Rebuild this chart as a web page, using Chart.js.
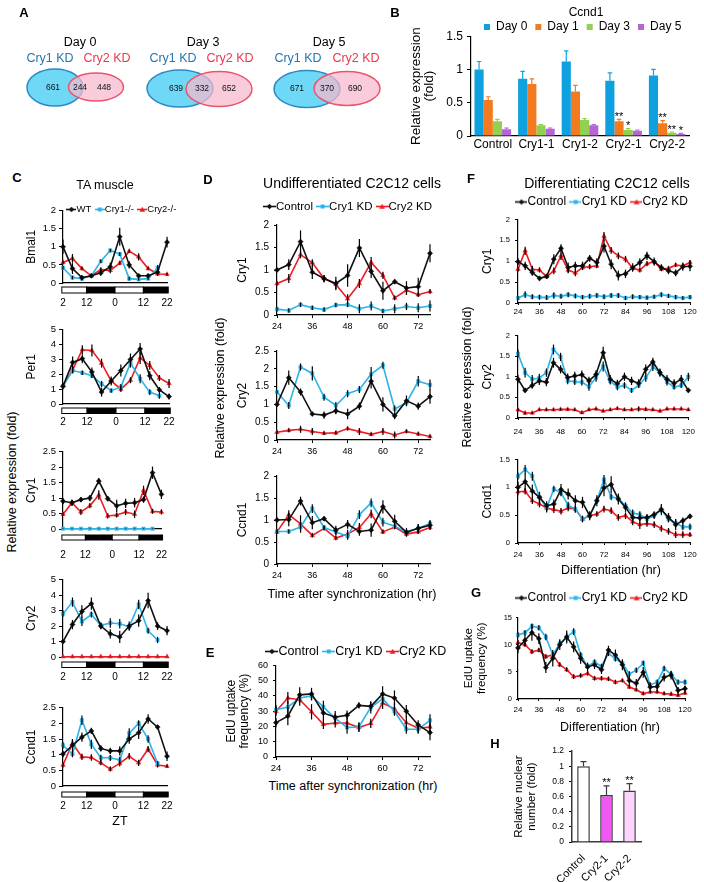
<!DOCTYPE html>
<html>
<head>
<meta charset="utf-8">
<script src="https://cdn.jsdelivr.net/npm/chart.js@4.4.1/dist/chart.umd.min.js"></script>
<style>
html, body { margin: 0; padding: 0; background: #fff; }
#fig { position: relative; width: 704px; height: 882px; overflow: hidden; font-family: "Liberation Sans", Arial, sans-serif; }
#fig canvas { position: absolute; }
.t { position: absolute; white-space: nowrap; line-height: 1; transform: translate(-50%, -50%); color: #000; }
</style>
</head>
<body>
<div id="fig"></div>
<script>
// ---------- A: Venn counts ----------
const vennDays = ['Day 0', 'Day 3', 'Day 5'];
const vennCry1Only = [661, 639, 671];
const vennShared = [244, 332, 370];
const vennCry2Only = [448, 652, 690];

// ---------- B: Ccnd1 bars ----------
const bCategories = ['Control', 'Cry1-1', 'Cry1-2', 'Cry2-1', 'Cry2-2'];
const bDays = ['Day 0', 'Day 1', 'Day 3', 'Day 5'];
const bDay0 = [1.00, 0.86, 1.12, 0.83, 0.91];
const bDay1 = [0.54, 0.78, 0.67, 0.22, 0.19];
const bDay3 = [0.22, 0.16, 0.24, 0.09, 0.05];
const bDay5 = [0.10, 0.11, 0.16, 0.08, 0.03];
const bDay0Err = [0.12, 0.11, 0.16, 0.12, 0.09];
const bDay1Err = [0.05, 0.08, 0.09, 0.03, 0.04];
const bDay3Err = [0.03, 0.01, 0.02, 0.02, 0.01];
const bDay5Err = [0.02, 0.01, 0.01, 0.01, 0.01];
const bDay1Stars = ['', '', '', '**', '**'];
const bDay3Stars = ['', '', '', '*', '**'];
const bDay5Stars = ['', '', '', '', '*'];

// ---------- C: TA muscle ----------
const cLabels = ['WT', 'Cry1-/-', 'Cry2-/-'];
const cZT = [2, 6, 10, 14, 18, 22, 26, 30, 34, 38, 42, 46];
const cZTTicks = [2, 12, 24, 36, 46];
const cLightDark = [[1.5, 12, 0], [12, 24, 1], [24, 36, 0], [36, 46.5, 1]];
const cBmal1WT = [1.0, 0.4, 0.15, 0.2, 0.28, 0.45, 1.28, 0.5, 0.2, 0.2, 0.3, 1.13];
const cBmal1Cry1 = [0.42, 0.15, 0.12, 0.2, 0.6, 0.9, 0.8, 0.12, 0.1, 0.12, 0.42, null];
const cBmal1Cry2 = [0.57, 0.68, 0.4, 0.2, 0.37, 0.35, 0.55, 0.88, 0.72, 0.4, 0.25, 0.24];
const cBmal1WTErr = [0.2, 0.15, 0.05, 0.05, 0.08, 0.12, 0.25, 0.1, 0.05, 0.05, 0.08, 0.15];
const cBmal1Cry1Err = [0.05, 0.05, 0.05, 0.05, 0.05, 0.05, 0.05, 0.05, 0.03, 0.03, 0.08, null];
const cBmal1Cry2Err = [0.05, 0.12, 0.05, 0.05, 0.05, 0.08, 0.05, 0.05, 0.1, 0.05, 0.05, 0.04];
const cPer1WT = [1.2, 2.8, 3.05, 2.15, 0.8, 1.55, 2.25, 3.0, 3.7, 1.9, 0.95, 0.5];
const cPer1Cry1 = [1.2, 2.25, 2.1, 1.9, 1.35, 0.9, 1.15, 2.75, 1.7, 0.8, 0.55, null];
const cPer1Cry2 = [1.25, 2.3, 3.65, 3.6, 2.75, 1.55, 1.0, 1.6, 3.1, 2.6, 1.75, 1.38];
const cPer1WTErr = [0.2, 0.4, 0.3, 0.3, 0.3, 0.3, 0.4, 0.4, 0.4, 0.3, 0.2, 0.2];
const cPer1Cry1Err = [0.1, 0.2, 0.15, 0.15, 0.2, 0.15, 0.2, 0.3, 0.3, 0.2, 0.2, null];
const cPer1Cry2Err = [0.1, 0.2, 0.3, 0.4, 0.3, 0.2, 0.2, 0.2, 0.4, 0.3, 0.2, 0.3];
const cCry1WT = [0.9, 0.85, 0.95, 1.0, 1.55, 0.98, 0.75, 0.83, 0.85, 0.95, 1.82, 1.12];
const cCry1Cry1 = [0.01, 0.01, 0.01, 0.01, 0.01, 0.01, 0.01, 0.01, 0.01, 0.01, 0.01, null];
const cCry1Cry2 = [0.48, 0.85, 0.55, 0.75, 1.1, 0.42, 0.45, 0.55, 0.48, 1.25, 0.57, 0.55];
const cCry1WTErr = [0.1, 0.1, 0.08, 0.1, 0.1, 0.08, 0.2, 0.15, 0.15, 0.1, 0.2, 0.15];
const cCry1Cry1Err = [0.01, 0.01, 0.01, 0.01, 0.01, 0.01, 0.01, 0.01, 0.01, 0.01, 0.01, null];
const cCry1Cry2Err = [0.05, 0.1, 0.1, 0.08, 0.15, 0.08, 0.08, 0.1, 0.12, 0.15, 0.08, 0.08];
const cCry2WT = [1.0, 2.1, 2.95, 3.45, 2.0, 1.5, 1.3, 2.0, 2.35, 3.65, 2.0, 1.7];
const cCry2Cry1 = [2.8, 3.55, 2.3, 2.75, 2.05, 2.2, 2.15, 1.95, 3.4, 1.7, 1.1, null];
const cCry2Cry2 = [0.02, 0.02, 0.02, 0.02, 0.02, 0.02, 0.02, 0.02, 0.02, 0.02, 0.02, 0.02];
const cCry2WTErr = [0.1, 0.3, 0.4, 0.4, 0.2, 0.3, 0.4, 0.3, 0.4, 0.5, 0.25, 0.3];
const cCry2Cry1Err = [0.2, 0.3, 0.3, 0.2, 0.2, 0.3, 0.3, 0.2, 0.3, 0.2, 0.2, null];
const cCry2Cry2Err = [0.01, 0.01, 0.01, 0.01, 0.01, 0.01, 0.01, 0.01, 0.01, 0.01, 0.01, 0.01];
const cCcnd1WT = [1.02, 1.3, 1.56, 1.76, 1.2, 1.12, 1.12, 1.5, 1.7, 2.14, 1.88, 0.95];
const cCcnd1Cry1 = [1.3, 1.02, 2.1, 1.33, 0.9, 0.9, 0.83, 1.69, 2.0, 1.5, 0.72, null];
const cCcnd1Cry2 = [0.67, 1.36, 0.93, 0.91, 0.74, 0.54, 0.72, 0.95, 0.74, 1.18, 0.67, 0.63];
const cCcnd1WTErr = [0.1, 0.2, 0.15, 0.1, 0.1, 0.1, 0.15, 0.15, 0.2, 0.15, 0.05, 0.15];
const cCcnd1Cry1Err = [0.1, 0.1, 0.15, 0.15, 0.1, 0.1, 0.1, 0.15, 0.1, 0.12, 0.08, null];
const cCcnd1Cry2Err = [0.08, 0.12, 0.1, 0.1, 0.08, 0.08, 0.1, 0.1, 0.1, 0.1, 0.08, 0.05];

// ---------- D / E: undifferentiated C2C12 ----------
const kdLabels = ['Control', 'Cry1 KD', 'Cry2 KD'];
const dT = [24, 28, 32, 36, 40, 44, 48, 52, 56, 60, 64, 68, 72, 76];
const dCry1Ctrl = [1.0, 1.12, 1.63, 0.95, 0.81, 0.7, 0.88, 1.49, 0.97, 0.54, 0.74, 0.6, 0.63, 1.37];
const dCry1Kd1 = [0.13, 0.1, 0.23, 0.16, 0.12, 0.22, 0.23, 0.14, 0.2, 0.09, 0.14, 0.19, 0.16, 0.2];
const dCry1Kd2 = [0.7, 0.81, 1.34, 1.16, 0.81, 0.68, 0.36, 0.7, 1.17, 0.88, 0.38, 0.55, 0.45, 0.52];
const dCry1CtrlErr = [0.05, 0.12, 0.25, 0.15, 0.08, 0.15, 0.25, 0.2, 0.15, 0.2, 0.05, 0.15, 0.2, 0.2];
const dCry1Kd1Err = [0.05, 0.05, 0.05, 0.05, 0.05, 0.05, 0.05, 0.1, 0.1, 0.05, 0.1, 0.08, 0.1, 0.12];
const dCry1Kd2Err = [0.05, 0.1, 0.08, 0.08, 0.08, 0.1, 0.1, 0.1, 0.12, 0.08, 0.05, 0.1, 0.05, 0.05];
const dCry2Ctrl = [1.0, 1.75, 1.35, 0.73, 0.7, 0.82, 0.73, 0.95, 1.65, 1.0, 0.68, 1.1, 0.95, 1.22];
const dCry2Kd1 = [1.35, 0.97, 2.05, 1.87, 1.2, 0.97, 1.3, 1.42, 1.85, 2.1, 0.87, 1.05, 1.65, 1.55];
const dCry2Kd2 = [0.22, 0.27, 0.3, 0.24, 0.19, 0.2, 0.32, 0.24, 0.16, 0.24, 0.14, 0.24, 0.17, 0.1];
const dCry2CtrlErr = [0.05, 0.2, 0.1, 0.05, 0.1, 0.1, 0.15, 0.1, 0.2, 0.2, 0.1, 0.15, 0.1, 0.2];
const dCry2Kd1Err = [0.05, 0.1, 0.1, 0.2, 0.1, 0.1, 0.1, 0.1, 0.2, 0.1, 0.1, 0.1, 0.15, 0.15];
const dCry2Kd2Err = [0.05, 0.05, 0.1, 0.1, 0.05, 0.05, 0.05, 0.1, 0.05, 0.1, 0.1, 0.05, 0.05, 0.05];
const dCcnd1Ctrl = [1.0, 1.01, 1.43, 0.94, 1.03, 0.77, 0.9, 0.74, 0.77, 1.3, 0.97, 0.72, 0.81, 0.88];
const dCcnd1Kd1 = [0.74, 0.74, 0.84, 1.26, 0.83, 0.73, 0.63, 1.12, 1.39, 0.95, 0.86, 0.73, 0.81, 0.92];
const dCcnd1Kd2 = [0.73, 1.12, 0.91, 0.65, 0.81, 0.59, 0.68, 0.83, 1.14, 0.73, 0.84, 0.68, 0.73, 0.83];
const dCcnd1CtrlErr = [0.05, 0.15, 0.1, 0.15, 0.05, 0.1, 0.1, 0.1, 0.15, 0.15, 0.15, 0.1, 0.1, 0.1];
const dCcnd1Kd1Err = [0.05, 0.05, 0.1, 0.1, 0.05, 0.08, 0.08, 0.1, 0.1, 0.1, 0.05, 0.05, 0.1, 0.08];
const dCcnd1Kd2Err = [0.05, 0.1, 0.2, 0.05, 0.05, 0.05, 0.1, 0.1, 0.1, 0.05, 0.05, 0.05, 0.05, 0.05];
const eCtrl = [22.5, 26.8, 40.7, 41.3, 28.9, 26.1, 27.4, 33.8, 33.2, 41.3, 38.6, 30, 21, 16];
const eKd1 = [31, 32.8, 38.6, 40, 32.8, 25.3, 19.3, 19.7, 32.5, 38.1, 30, 18.2, 18.2, 24];
const eKd2 = [30, 38.6, 37.5, 29.6, 21.4, 22.3, 22.3, 19.3, 22, 35.4, 31.5, 22.5, 18.8, 19.7];
const eCtrlErr = [3, 6, 5, 4, 5, 4, 3, 2, 3, 5, 5, 4, 3, 5];
const eKd1Err = [3, 4, 3, 3, 4, 3, 4, 3, 4, 3, 3, 3, 3, 4];
const eKd2Err = [3, 4, 4, 5, 3, 3, 4, 3, 3, 4, 4, 4, 3, 3];

// ---------- F / G: differentiating C2C12 ----------
const fT = [24, 28, 32, 36, 40, 44, 48, 52, 56, 60, 64, 68, 72, 76, 80, 84, 88, 92, 96, 100, 104, 108, 112, 116, 120];
const fCry1Ctrl = [0.99, 0.89, 0.73, 0.59, 0.64, 1.05, 1.31, 0.85, 0.89, 0.89, 1.07, 0.97, 1.36, 0.93, 0.66, 0.7, 0.85, 0.97, 1.13, 0.99, 0.85, 0.77, 0.72, 0.87, 0.88];
const fCry1Kd1 = [0.12, 0.2, 0.15, 0.14, 0.13, 0.18, 0.16, 0.2, 0.17, 0.14, 0.16, 0.18, 0.15, 0.18, 0.18, 0.12, 0.15, 0.14, 0.13, 0.15, 0.2, 0.17, 0.14, 0.12, 0.14];
const fCry1Kd2 = [0.81, 1.25, 0.81, 0.79, 0.63, 0.77, 1.13, 0.79, 0.72, 0.85, 0.87, 0.89, 1.6, 1.26, 1.13, 1.05, 0.83, 0.79, 0.94, 0.99, 0.81, 0.83, 0.91, 0.89, 0.97];
const fCry1CtrlErr = [0.08, 0.1, 0.08, 0.05, 0.05, 0.12, 0.1, 0.12, 0.1, 0.1, 0.08, 0.1, 0.15, 0.12, 0.12, 0.1, 0.1, 0.1, 0.1, 0.1, 0.08, 0.08, 0.08, 0.1, 0.12];
const fCry1Kd1Err = [0.05, 0.08, 0.06, 0.06, 0.06, 0.08, 0.06, 0.06, 0.06, 0.05, 0.06, 0.06, 0.06, 0.06, 0.06, 0.05, 0.06, 0.05, 0.05, 0.05, 0.06, 0.05, 0.05, 0.04, 0.05];
const fCry1Kd2Err = [0.06, 0.1, 0.08, 0.06, 0.05, 0.08, 0.1, 0.08, 0.08, 0.06, 0.06, 0.06, 0.1, 0.08, 0.08, 0.08, 0.06, 0.06, 0.06, 0.06, 0.05, 0.05, 0.05, 0.05, 0.06];
const fCry2Ctrl = [0.94, 0.67, 0.79, 0.9, 0.87, 1.34, 1.18, 0.98, 1.02, 1.05, 0.9, 1.06, 1.58, 0.94, 0.83, 1.0, 0.9, 0.84, 1.18, 1.36, 1.1, 0.94, 0.84, 0.94, 0.67];
const fCry2Kd1 = [1.56, 1.1, 0.94, 0.97, 1.1, 1.66, 1.48, 0.9, 0.88, 0.87, 0.76, 0.98, 1.25, 0.89, 0.75, 0.79, 0.67, 0.79, 0.98, 1.24, 1.1, 0.87, 0.75, 0.79, 1.0];
const fCry2Kd2 = [0.2, 0.12, 0.12, 0.2, 0.2, 0.2, 0.21, 0.21, 0.2, 0.13, 0.2, 0.22, 0.17, 0.2, 0.23, 0.2, 0.2, 0.22, 0.21, 0.2, 0.17, 0.22, 0.22, 0.22, 0.2];
const fCry2CtrlErr = [0.1, 0.05, 0.08, 0.1, 0.1, 0.12, 0.1, 0.1, 0.1, 0.1, 0.1, 0.1, 0.15, 0.1, 0.1, 0.1, 0.1, 0.1, 0.12, 0.1, 0.1, 0.1, 0.1, 0.1, 0.05];
const fCry2Kd1Err = [0.1, 0.12, 0.1, 0.1, 0.1, 0.12, 0.1, 0.08, 0.08, 0.08, 0.1, 0.1, 0.12, 0.08, 0.08, 0.08, 0.06, 0.06, 0.1, 0.1, 0.08, 0.08, 0.06, 0.06, 0.1];
const fCry2Kd2Err = [0.04, 0.04, 0.03, 0.03, 0.03, 0.03, 0.03, 0.03, 0.03, 0.03, 0.03, 0.03, 0.03, 0.03, 0.03, 0.03, 0.03, 0.06, 0.04, 0.03, 0.03, 0.03, 0.03, 0.03, 0.03];
const fCcnd1Ctrl = [1.0, 1.1, 0.93, 0.82, 0.67, 0.7, 0.96, 0.88, 0.76, 0.73, 0.49, 0.76, 0.99, 1.05, 0.79, 0.64, 0.46, 0.45, 0.46, 0.51, 0.6, 0.46, 0.33, 0.4, 0.48];
const fCcnd1Kd1 = [1.2, 1.32, 1.2, 0.82, 0.63, 0.97, 0.9, 0.68, 0.61, 0.43, 0.49, 0.76, 1.14, 0.83, 0.8, 0.67, 0.54, 0.51, 0.43, 0.49, 0.6, 0.43, 0.36, 0.29, 0.29];
const fCcnd1Kd2 = [0.92, 0.93, 0.76, 0.7, 0.63, 0.6, 0.57, 0.63, 0.61, 0.43, 0.49, 0.52, 0.61, 0.58, 0.46, 0.49, 0.38, 0.33, 0.35, 0.33, 0.26, 0.21, 0.15, 0.15, 0.15];
const fCcnd1CtrlErr = [0.1, 0.15, 0.12, 0.1, 0.08, 0.08, 0.1, 0.1, 0.1, 0.1, 0.08, 0.1, 0.15, 0.15, 0.1, 0.08, 0.08, 0.06, 0.06, 0.06, 0.1, 0.08, 0.1, 0.06, 0.04];
const fCcnd1Kd1Err = [0.06, 0.08, 0.08, 0.08, 0.08, 0.06, 0.06, 0.06, 0.06, 0.06, 0.06, 0.06, 0.08, 0.06, 0.06, 0.06, 0.06, 0.06, 0.06, 0.06, 0.06, 0.06, 0.06, 0.06, 0.06];
const fCcnd1Kd2Err = [0.06, 0.06, 0.06, 0.06, 0.06, 0.06, 0.06, 0.06, 0.06, 0.05, 0.05, 0.05, 0.06, 0.06, 0.06, 0.06, 0.06, 0.08, 0.06, 0.06, 0.06, 0.06, 0.06, 0.06, 0.04];
const gCtrl = [9.4, 10.8, 12.2, 11.1, 5.8, 7.5, 10, 11.4, 9.6, 7.5, 5.9, 6.3, 5.4, 9, 8.1, 6.3, 3.4, 2.9, 4.9, 2.2, 2.3, 4, 4.4, 1.6, 1.9];
const gKd1 = [11.8, 12.2, 13.4, 13.1, 11.4, 8.1, 10.2, 11.4, 12.4, 8.1, 6, 6.8, 6, 8.4, 7.4, 6.6, 4.6, 5.3, 6.6, 2.6, 3.1, 5.6, 4.6, 3.1, 3.1];
const gKd2 = [10.4, 10, 8.7, 9, 7.8, 8.1, 6.3, 5.4, 4.1, 4.3, 4.7, 3.8, 3.8, 3.7, 3.1, 3.4, 2.2, 1.7, 1, 1.3, 1.3, 1, 0.9, 0.7, 1.1];
const gCtrlErr = [1, 1, 1.5, 1, 1, 1.5, 1, 1.2, 1, 1, 0.8, 0.8, 0.8, 0.8, 1, 1, 1, 0.8, 1, 0.6, 0.8, 0.8, 0.8, 0.6, 0.6];
const gKd1Err = [0.5, 0.5, 0.5, 0.5, 0.6, 0.6, 0.6, 0.8, 0.6, 0.5, 0.5, 0.5, 0.5, 0.5, 0.5, 0.5, 0.5, 0.5, 0.5, 0.5, 0.5, 0.5, 0.5, 0.5, 0.5];
const gKd2Err = [0.4, 0.4, 0.4, 0.4, 0.4, 0.4, 0.4, 0.4, 0.4, 0.4, 0.4, 0.4, 0.4, 0.4, 0.4, 0.3, 0.3, 0.3, 0.3, 0.3, 0.3, 0.3, 0.3, 0.3, 0.3];

// ---------- H: nuclear number ----------
const hCategories = ['Control', 'Cry2-1', 'Cry2-2'];
const hValues = [1.0, 0.62, 0.68];
const hErr = [0.06, 0.12, 0.09];
const hStars = ['', '**', '**'];

// =====================================================================
Chart.defaults.font.family = '"Liberation Sans", Arial, sans-serif';
Chart.defaults.color = '#000';
Chart.defaults.animation = false;
Chart.defaults.responsive = false;
Chart.defaults.events = [];
Chart.defaults.plugins.legend.display = false;
Chart.defaults.plugins.tooltip.enabled = false;

const fig = document.getElementById('fig');
const SERIES = [
    { color: '#111111', shape: 'rectRot', r: 2.6 },
    { color: '#2cb3e8', shape: 'rect', r: 2.4 },
    { color: '#ed1c24', shape: 'triangle', r: 2.6 }
];
const B_COLORS = ['#0fa0e0', '#f47a1f', '#92d050', '#b565d6'];
const plainNum = v => String(+Number(v).toFixed(2));

function addCanvas(left, top, w, h) {
    const c = document.createElement('canvas');
    c.width = Math.round(w);
    c.height = Math.round(h);
    c.style.left = Math.round(left) + 'px';
    c.style.top = Math.round(top) + 'px';
    fig.appendChild(c);
    return c;
}

function txt(s, cx, cy, size, opt = {}) {
    const d = document.createElement('div');
    d.className = 't';
    d.textContent = s;
    d.style.left = cx + 'px';
    d.style.top = cy + 'px';
    d.style.fontSize = size + 'px';
    if (opt.bold) d.style.fontWeight = 'bold';
    if (opt.rot) d.style.transform = 'translate(-50%, -50%) rotate(-90deg)';
    fig.appendChild(d);
}

// vertical error bars drawn through the y scale
const errorBars = {
    id: 'errorBars',
    afterDatasetsDraw(chart) {
        const ctx = chart.ctx;
        const ys = chart.scales.y;
        chart.data.datasets.forEach((ds, di) => {
            if (!ds.errors) return;
            const meta = chart.getDatasetMeta(di);
            ctx.save();
            ctx.strokeStyle = ds.errorColor || '#000';
            ctx.lineWidth = ds.errorWidth || 1.2;
            meta.data.forEach((el, i) => {
                const raw = ds.data[i];
                const v = (raw !== null && typeof raw === 'object') ? raw.y : raw;
                const e = ds.errors[i];
                if (v == null || !e) return;
                const yHi = ys.getPixelForValue(v + e);
                const yLo = ds.errorUpOnly ? ys.getPixelForValue(v) : ys.getPixelForValue(Math.max(v - e, ys.min));
                ctx.beginPath();
                ctx.moveTo(el.x, yLo);
                ctx.lineTo(el.x, yHi);
                if (ds.errorCap) {
                    ctx.moveTo(el.x - ds.errorCap, yHi);
                    ctx.lineTo(el.x + ds.errorCap, yHi);
                }
                ctx.stroke();
                if (ds.stars && ds.stars[i]) {
                    ctx.fillStyle = '#000';
                    ctx.font = '11px "Liberation Sans", Arial, sans-serif';
                    ctx.textAlign = 'center';
                    ctx.textBaseline = 'bottom';
                    ctx.fillText(ds.stars[i], el.x, yHi + 3);
                }
            });
            ctx.restore();
        });
    }
};

// light / dark phase bar under the ZT axis
function lightDarkBar(dy0, dy1) {
    return {
        id: 'lightDark',
        afterDraw(chart) {
            const { ctx, chartArea, scales: { x } } = chart;
            const yA = chartArea.bottom + dy0;
            ctx.save();
            ctx.lineWidth = 1;
            ctx.strokeStyle = '#000';
            cLightDark.forEach(([a, b, dark]) => {
                const xa = x.getPixelForValue(a), xb = x.getPixelForValue(b);
                ctx.fillStyle = dark ? '#000' : '#fff';
                ctx.fillRect(xa, yA, xb - xa, dy1 - dy0);
                ctx.strokeRect(xa, yA, xb - xa, dy1 - dy0);
            });
            ctx.restore();
        }
    };
}

function sets(labels, xs, ys, errs) {
    return ys.map((y, k) => ({
        label: labels[k],
        data: xs.map((x, i) => ({ x: x, y: y[i] })),
        errors: errs[k],
        borderColor: SERIES[k].color,
        backgroundColor: SERIES[k].color,
        borderWidth: 1.6,
        pointStyle: SERIES[k].shape,
        pointRadius: SERIES[k].r,
        pointBorderWidth: 0.5,
        tension: 0,
        clip: false
    }));
}

function linePanel(p) {
    const tLine = p.tLine || 1.2;
    const lh = p.tSize * tLine;
    const left = Math.round(p.titleX - lh / 2);
    const top = Math.round(p.y0 - 8);
    const yw = p.x0 - left;
    const pr = 12;
    const cv = addCanvas(left, top, p.x1 - left + pr, p.y1 - top + p.xh);
    const xTicks = { stepSize: p.xStep, includeBounds: false, autoSkip: false, maxRotation: 0,
        font: { size: p.xFont }, padding: p.xPad };
    if (p.xFmt) xTicks.callback = p.xFmt;
    const xScale = {
        type: 'linear', min: p.xMin, max: p.xMax, ticks: xTicks,
        afterFit: s => { s.height = p.xh; },
        grid: { drawOnChartArea: false, drawTicks: p.xTick > 0, tickLength: p.xTick, color: '#000', lineWidth: 1 },
        border: { color: '#000', width: 1.2 }
    };
    if (p.xTicks) xScale.afterBuildTicks = s => { s.ticks = p.xTicks.map(v => ({ value: v })); };
    return new Chart(cv, {
        type: 'line',
        data: { datasets: p.datasets },
        options: {
            layout: { padding: { top: p.y0 - top, right: pr, left: 0, bottom: 0 } },
            scales: {
                x: xScale,
                y: {
                    min: 0, max: p.yMax,
                    afterFit: s => { s.width = yw; },
                    ticks: { stepSize: p.yStep, font: { size: p.yFont }, padding: p.yPad, callback: plainNum },
                    grid: { drawOnChartArea: false, tickLength: p.yTick, color: '#000', lineWidth: 1 },
                    border: { color: '#000', width: 1.2 },
                    title: { display: true, text: p.title, font: { size: p.tSize, lineHeight: tLine }, padding: 0 }
                }
            }
        },
        plugins: p.lightDark ? [errorBars, p.lightDark] : [errorBars]
    });
}

function lineIcon(k, w) {
    const c = document.createElement('canvas');
    c.width = w;
    c.height = 7;
    const g = c.getContext('2d');
    g.strokeStyle = SERIES[k].color;
    g.fillStyle = SERIES[k].color;
    g.lineWidth = 1.6;
    g.beginPath(); g.moveTo(0, 3.5); g.lineTo(w, 3.5); g.stroke();
    const m = w / 2;
    g.beginPath();
    if (k === 0) { g.moveTo(m, 0.8); g.lineTo(m + 2.7, 3.5); g.lineTo(m, 6.2); g.lineTo(m - 2.7, 3.5); }
    else if (k === 1) { g.rect(m - 2, 1.5, 4, 4); }
    else { g.moveTo(m, 0.8); g.lineTo(m + 2.8, 5.8); g.lineTo(m - 2.8, 5.8); }
    g.closePath();
    g.fill();
    return c;
}

// legend-only chart: first icon starts at x0, text centred on cy
function lineLegend(x0, cy, size, iconW, gap, labels) {
    const pad = gap + size / 2;
    const cv = addCanvas(x0 - pad + size / 2, cy - pad - size / 2, 250, 80);
    new Chart(cv, {
        type: 'line',
        data: { datasets: labels.map((lab, k) => ({ label: lab, data: [], borderColor: SERIES[k].color,
            backgroundColor: SERIES[k].color, pointStyle: lineIcon(k, iconW) })) },
        options: {
            layout: { padding: 0 },
            scales: { x: { display: false }, y: { display: false } },
            plugins: { legend: { display: true, position: 'top', align: 'start',
                labels: { usePointStyle: true, pointStyleWidth: iconW - size, font: { size: size }, padding: pad, color: '#000' } } }
        }
    });
}

// ---------------- A: Venn diagrams ----------------
const vennGeom = [
    { c1: [55, 87.5, 28, 18.5], c2: [96, 87, 27.5, 14], n: [53, 80, 104], title: 80, k1: 50, k2: 107 },
    { c1: [180, 88.5, 33, 18.5], c2: [219, 89, 33, 17.5], n: [176, 202, 229], title: 203, k1: 173, k2: 230 },
    { c1: [307, 89, 33, 18.5], c2: [347, 88.5, 33, 17], n: [297, 327, 355], title: 329, k1: 298, k2: 356 }
];
const vennPlugin = {
    id: 'venn',
    afterDraw(chart) {
        const { ctx, scales: { x, y } } = chart;
        const px = v => x.getPixelForValue(v), py = v => y.getPixelForValue(v);
        const ell = (e, fill, stroke) => {
            ctx.beginPath();
            ctx.ellipse(px(e[0]), py(e[1]), px(e[0] + e[2]) - px(e[0]), py(e[1] + e[3]) - py(e[1]), 0, 0, Math.PI * 2);
            ctx.fillStyle = fill; ctx.fill();
            ctx.lineWidth = 1.5; ctx.strokeStyle = stroke; ctx.stroke();
        };
        ctx.save();
        ctx.textAlign = 'center';
        ctx.textBaseline = 'middle';
        vennGeom.forEach((g, i) => {
            ell(g.c1, '#6ed8f6', '#2a8ac3');
            ell(g.c2, 'rgba(248,184,205,0.72)', '#e9566c');
            ctx.fillStyle = '#111';
            ctx.font = '8.5px "Liberation Sans", Arial, sans-serif';
            ctx.fillText(String(vennCry1Only[i]), px(g.n[0]), py(g.c1[1]));
            ctx.fillText(String(vennShared[i]), px(g.n[1]), py(g.c1[1]));
            ctx.fillText(String(vennCry2Only[i]), px(g.n[2]), py(g.c1[1]));
            ctx.font = '12.5px "Liberation Sans", Arial, sans-serif';
            ctx.fillStyle = '#000';
            ctx.fillText(vennDays[i], px(g.title), py(43));
            ctx.fillStyle = '#2476b3';
            ctx.fillText('Cry1 KD', px(g.k1), py(59));
            ctx.fillStyle = '#e8384e';
            ctx.fillText('Cry2 KD', px(g.k2), py(59));
        });
        ctx.restore();
    }
};
new Chart(addCanvas(0, 0, 390, 130), {
    type: 'scatter',
    data: { datasets: [] },
    options: { layout: { padding: 0 },
        scales: { x: { display: false, min: 0, max: 390 }, y: { display: false, min: 0, max: 130, reverse: true } } },
    plugins: [vennPlugin]
});

// ---------------- B: Ccnd1 bar chart ----------------
const bVals = [bDay0, bDay1, bDay3, bDay5];
const bErrs = [bDay0Err, bDay1Err, bDay3Err, bDay5Err];
const bStars = [null, bDay1Stars, bDay3Stars, bDay5Stars];
new Chart(addCanvas(410, 25, 294, 131), {
    type: 'bar',
    data: {
        labels: bCategories,
        datasets: bDays.map((d, k) => ({
            label: d, data: bVals[k], errors: bErrs[k], stars: bStars[k],
            backgroundColor: B_COLORS[k], errorColor: B_COLORS[k], errorUpOnly: true, errorCap: 2.2,
            categoryPercentage: 0.84, barPercentage: 1
        }))
    },
    options: {
        layout: { padding: { top: 8, right: 15, left: 0, bottom: 0 } },
        scales: {
            x: { afterFit: s => { s.height = 20; },
                ticks: { font: { size: 12 }, padding: -7, maxRotation: 0, minRotation: 0, autoSkip: false },
                grid: { display: false }, border: { color: '#000', width: 1.2 } },
            y: { min: 0, max: 1.5, afterFit: s => { s.width = 61; },
                ticks: { stepSize: 0.5, font: { size: 12 }, padding: 4, callback: plainNum },
                grid: { drawOnChartArea: false, tickLength: 4, color: '#000' },
                border: { color: '#000', width: 1.2 },
                title: { display: true, text: ['Relative expression', '(fold)'], font: { size: 13.5, lineHeight: 0.93 }, padding: 0 } }
        }
    },
    plugins: [errorBars]
});
// B legend
new Chart(addCanvas(476, 27 - 8 - 6, 228, 60), {
    type: 'bar',
    data: { datasets: bDays.map((d, k) => ({ label: d, data: [], backgroundColor: B_COLORS[k] })) },
    options: {
        layout: { padding: 0 },
        scales: { x: { display: false }, y: { display: false } },
        plugins: { legend: { display: true, position: 'top', align: 'start',
            labels: { boxWidth: 6, boxHeight: 6, font: { size: 12 }, padding: 8, color: '#000' } } }
    }
});

// ---------------- C: TA muscle ----------------
const cCommon = {
    x0: 63, x1: 175, xMin: 2, xMax: 46, xTicks: cZTTicks, xFmt: v => String(v % 24),
    titleX: 31, tSize: 12, xFont: 10, yFont: 9.5, xTick: 0, yTick: 4, yPad: 3, xh: 32
};
const cPanels = [
    { title: 'Bmal1', y0: 210, y1: 283, yMax: 2, yStep: 0.5, xPad: 14.4, bar: [4, 10],
        ys: [cBmal1WT, cBmal1Cry1, cBmal1Cry2], es: [cBmal1WTErr, cBmal1Cry1Err, cBmal1Cry2Err] },
    { title: 'Per1', y0: 329, y1: 404, yMax: 5, yStep: 1, xPad: 12.4, bar: [4, 9.5],
        ys: [cPer1WT, cPer1Cry1, cPer1Cry2], es: [cPer1WTErr, cPer1Cry1Err, cPer1Cry2Err] },
    { title: 'Cry1', y0: 451, y1: 529, yMax: 2.5, yStep: 0.5, xPad: 20, bar: [6, 11],
        ys: [cCry1WT, cCry1Cry1, cCry1Cry2], es: [cCry1WTErr, cCry1Cry1Err, cCry1Cry2Err] },
    { title: 'Cry2', y0: 579, y1: 657, yMax: 5, yStep: 1, xPad: 14.4, bar: [5, 10.5],
        ys: [cCry2WT, cCry2Cry1, cCry2Cry2], es: [cCry2WTErr, cCry2Cry1Err, cCry2Cry2Err] },
    { title: 'Ccnd1', y0: 707, y1: 786, yMax: 2.5, yStep: 0.5, xPad: 14.4, bar: [6, 11],
        ys: [cCcnd1WT, cCcnd1Cry1, cCcnd1Cry2], es: [cCcnd1WTErr, cCcnd1Cry1Err, cCcnd1Cry2Err] }
];
cPanels.forEach(c => linePanel(Object.assign({}, cCommon, c, {
    datasets: sets(cLabels, cZT, c.ys, c.es), lightDark: lightDarkBar(c.bar[0], c.bar[1])
})));
lineLegend(66, 209, 9.5, 10.5, 3, cLabels);

// ---------------- D: undifferentiated ----------------
const dCommon = {
    x0: 277, x1: 430, xMin: 24, xMax: 76, xStep: 12, titleX: 242, tSize: 12,
    xFont: 9, yFont: 10, xTick: 3, xPad: 3, yTick: 3, yPad: 5, xh: 18
};
[
    { title: 'Cry1', y0: 222, y1: 315, yMax: 2, yStep: 0.5,
        ys: [dCry1Ctrl, dCry1Kd1, dCry1Kd2], es: [dCry1CtrlErr, dCry1Kd1Err, dCry1Kd2Err] },
    { title: 'Cry2', y0: 348, y1: 440, yMax: 2.5, yStep: 0.5,
        ys: [dCry2Ctrl, dCry2Kd1, dCry2Kd2], es: [dCry2CtrlErr, dCry2Kd1Err, dCry2Kd2Err] },
    { title: 'Ccnd1', y0: 473, y1: 564, yMax: 2, yStep: 0.5,
        ys: [dCcnd1Ctrl, dCcnd1Kd1, dCcnd1Kd2], es: [dCcnd1CtrlErr, dCcnd1Kd1Err, dCcnd1Kd2Err] }
].forEach(c => linePanel(Object.assign({}, dCommon, c, { datasets: sets(kdLabels, dT, c.ys, c.es) })));
lineLegend(263, 206, 11.5, 13, 3, kdLabels);

// ---------------- E: EdU undifferentiated ----------------
linePanel({
    x0: 276, x1: 430, xMin: 24, xMax: 76, xStep: 12, y0: 663, y1: 757, yMax: 60, yStep: 10,
    title: ['EdU uptake', 'frequency (%)'], titleX: 231, tSize: 12, tLine: 13 / 12,
    xFont: 9.5, yFont: 9, xTick: 3, xPad: 3, yTick: 3, yPad: 5, xh: 18,
    datasets: sets(kdLabels, dT, [eCtrl, eKd1, eKd2], [eCtrlErr, eKd1Err, eKd2Err])
});
lineLegend(265, 651, 12.5, 13.5, 3, kdLabels);

// ---------------- F: differentiating ----------------
const fCommon = {
    x0: 518, x1: 690, xMin: 24, xMax: 120, xStep: 12, titleX: 487, tSize: 12,
    xFont: 8, yFont: 7.5, xTick: 2, yTick: 3, yPad: 5
};
[
    { title: 'Cry1', y0: 218, y1: 303, yMax: 2, yStep: 0.5, xPad: 2, xh: 14,
        ys: [fCry1Ctrl, fCry1Kd1, fCry1Kd2], es: [fCry1CtrlErr, fCry1Kd1Err, fCry1Kd2Err] },
    { title: 'Cry2', y0: 334, y1: 418, yMax: 2, yStep: 0.5, xPad: 7, xh: 20,
        ys: [fCry2Ctrl, fCry2Kd1, fCry2Kd2], es: [fCry2CtrlErr, fCry2Kd1Err, fCry2Kd2Err] },
    { title: 'Ccnd1', y0: 458, y1: 543, yMax: 1.5, yStep: 0.5, xPad: 5, xh: 18,
        ys: [fCcnd1Ctrl, fCcnd1Kd1, fCcnd1Kd2], es: [fCcnd1CtrlErr, fCcnd1Kd1Err, fCcnd1Kd2Err] }
].forEach(c => linePanel(Object.assign({}, fCommon, c, { datasets: sets(kdLabels, fT, c.ys, c.es) })));
lineLegend(515, 202, 12, 12.5, 3, kdLabels);

// ---------------- G: EdU differentiating ----------------
linePanel({
    x0: 518, x1: 685, xMin: 24, xMax: 120, xStep: 12, y0: 617, y1: 699, yMax: 15, yStep: 5,
    title: ['EdU uptake', 'frequency (%)'], titleX: 468, tSize: 11.5, tLine: 13 / 11.5,
    xFont: 8, yFont: 7.5, xTick: 2, xPad: 4, yTick: 2, yPad: 4, xh: 16,
    datasets: sets(kdLabels, fT, [gCtrl, gKd1, gKd2], [gCtrlErr, gKd1Err, gKd2Err])
});
lineLegend(515, 598, 12, 12.5, 3, kdLabels);

// ---------------- H: nuclear number ----------------
new Chart(addCanvas(512, 741, 137, 141), {
    type: 'bar',
    data: {
        labels: hCategories,
        datasets: [{
            data: hValues, errors: hErr, stars: hStars,
            backgroundColor: ['#ffffff', '#f157f1', '#ffd3ff'], borderColor: '#3a3a3a', borderWidth: 1.5,
            errorColor: '#3a3a3a', errorUpOnly: true, errorCap: 3, categoryPercentage: 0.55, barPercentage: 1
        }]
    },
    options: {
        layout: { padding: { top: 8, right: 8, left: 0, bottom: 0 } },
        scales: {
            x: { afterFit: s => { s.height = 40; },
                ticks: { minRotation: 45, maxRotation: 45, font: { size: 11 }, padding: 2, autoSkip: false },
                grid: { display: false }, border: { color: '#3a3a3a', width: 1.5 } },
            y: { min: 0, max: 1.2, afterFit: s => { s.width = 60; },
                ticks: { stepSize: 0.2, font: { size: 8.5 }, padding: 5, callback: plainNum },
                grid: { drawOnChartArea: false, tickLength: 3, color: '#000' },
                border: { color: '#3a3a3a', width: 1.5 },
                title: { display: true, text: ['Relative nuclear', 'number (fold)'], font: { size: 11.5, lineHeight: 13.5 / 11.5 }, padding: 0 } }
        }
    },
    plugins: [errorBars]
});

// ---------------- texts ----------------
[['A', 24, 12], ['B', 395, 12], ['C', 17, 177], ['D', 208, 179], ['E', 210, 652],
 ['F', 471, 178], ['G', 476, 592], ['H', 495, 743]].forEach(l => txt(l[0], l[1], l[2], 13, { bold: true }));
txt('Ccnd1', 586, 12, 12);
txt('TA muscle', 105, 185, 12.5);
txt('Undifferentiated C2C12 cells', 352, 183, 14);
txt('Differentiating C2C12 cells', 607, 183, 14);
txt('Relative expression (fold)', 12, 482, 12.5, { rot: true });
txt('Relative expression (fold)', 220, 388, 12.5, { rot: true });
txt('Relative expression (fold)', 467, 377, 12.5, { rot: true });
txt('ZT', 120, 821, 12.5);
txt('Time after synchronization (hr)', 352, 594, 12.5);
txt('Time after synchronization (hr)', 353, 786, 12.5);
txt('Differentiation (hr)', 611, 570, 12.5);
txt('Differentiation (hr)', 610, 727, 12.5);
</script>
</body>
</html>
